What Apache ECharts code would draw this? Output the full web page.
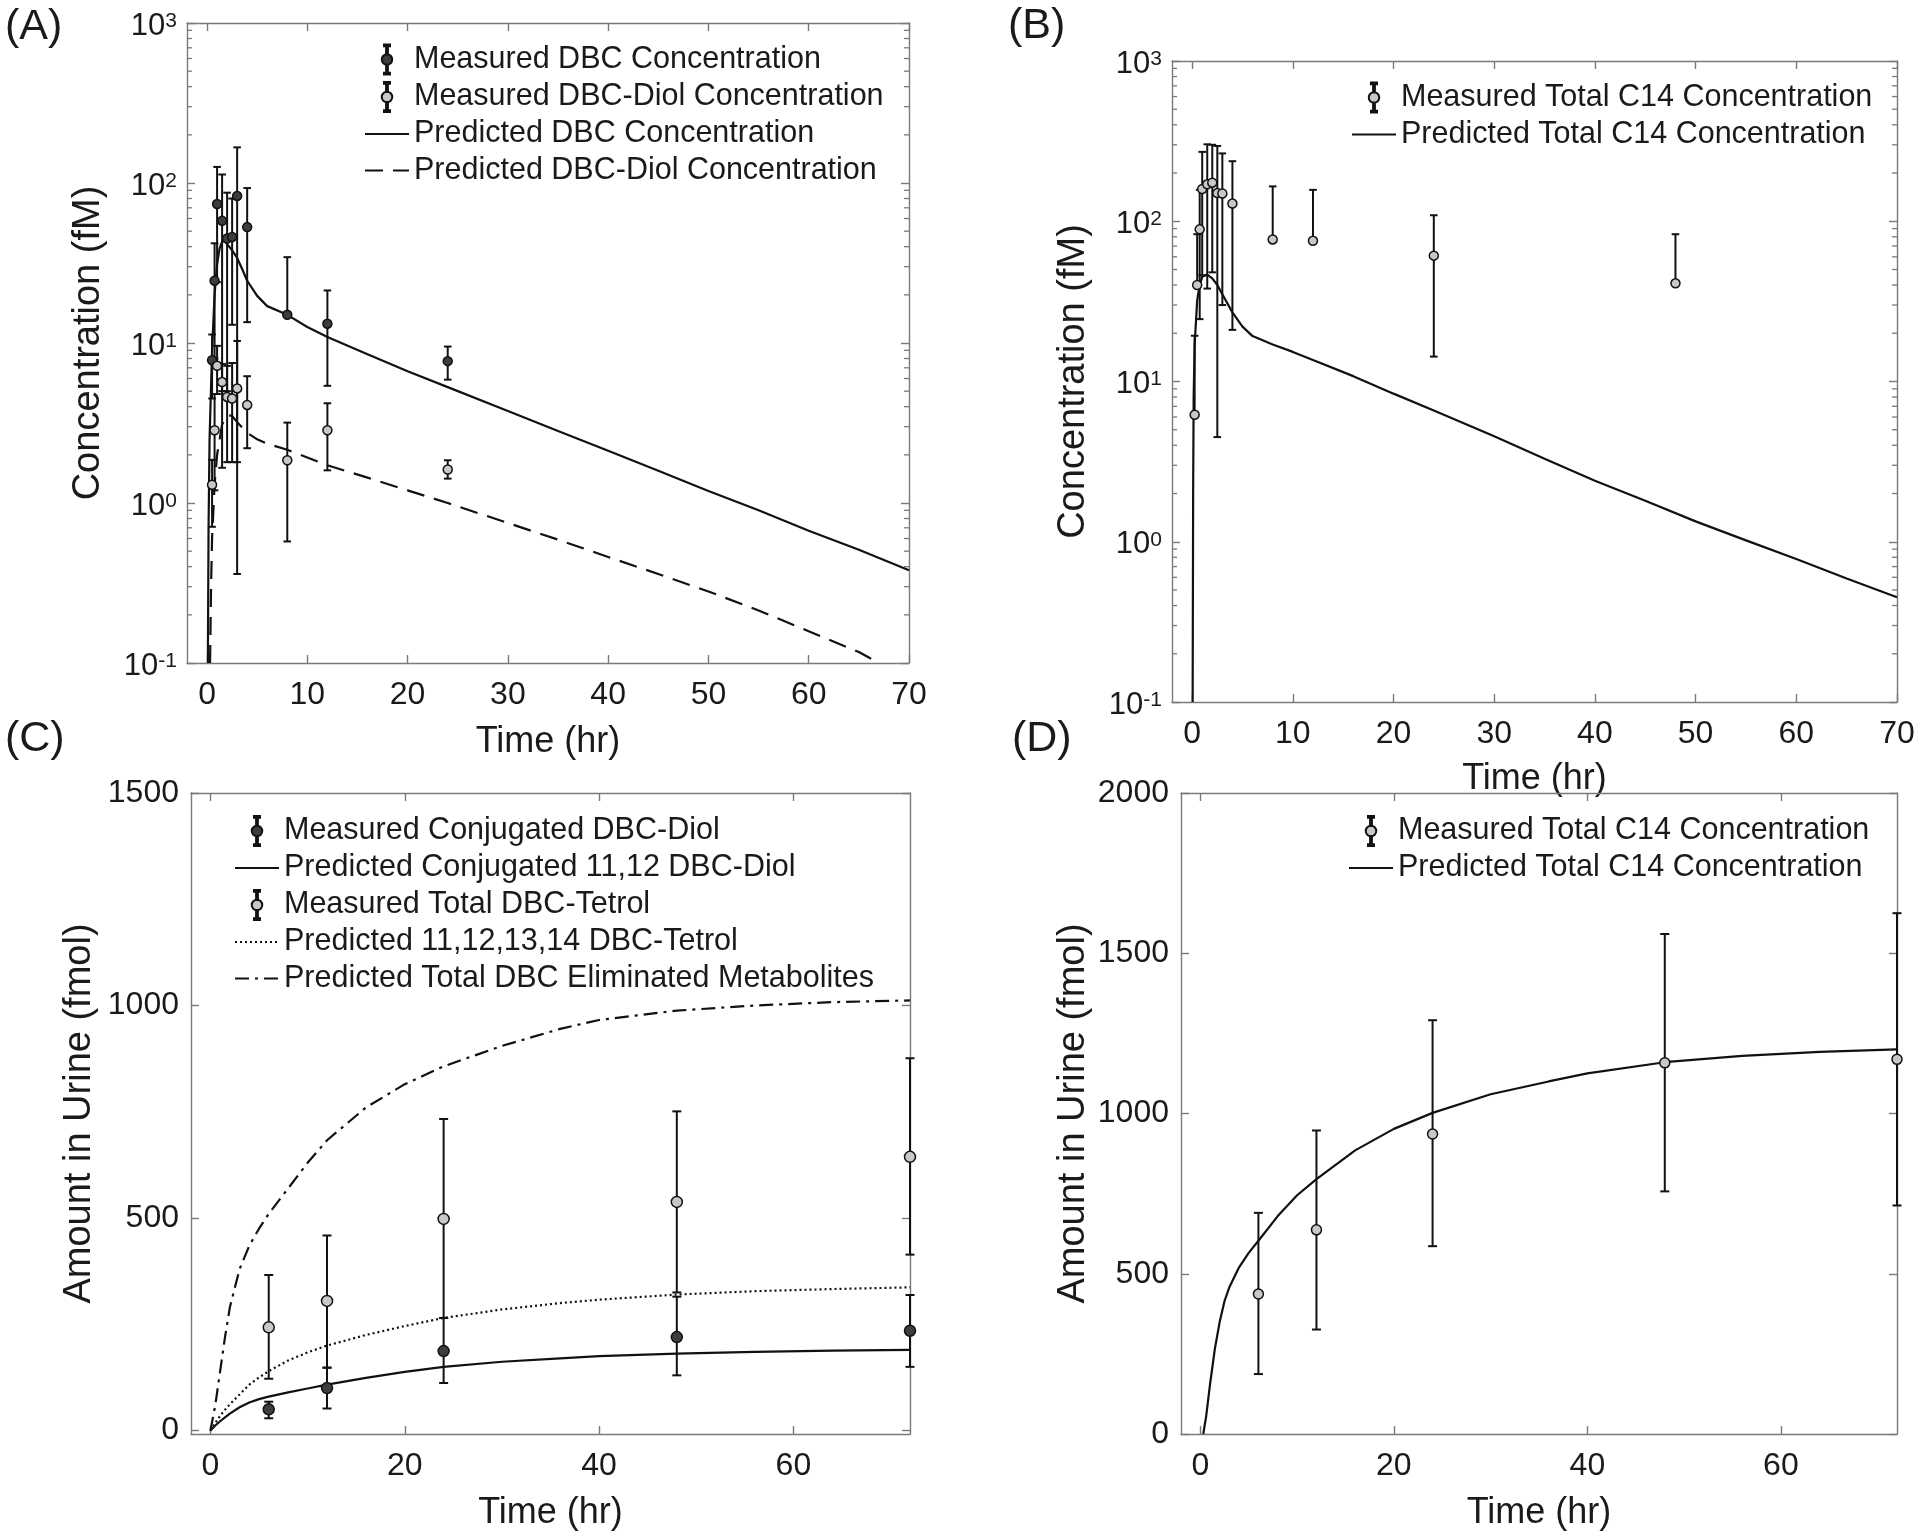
<!DOCTYPE html>
<html>
<head>
<meta charset="utf-8">
<script src="https://cdn.jsdelivr.net/npm/echarts@6/dist/echarts.min.js"></script>
<style>
html,body{margin:0;padding:0;background:#fff;}
#chart{width:1920px;height:1536px;}
</style>
</head>
<body>
<div id="chart"></div>
<script>
// ---------------- DATA ----------------
// Panel A: plasma DBC / DBC-Diol (log scale)
const tA = [0.5, 0.75, 1, 1.5, 2, 2.5, 3, 4, 8, 12, 24];
const dbcMean  = [7.8, 24.5, 74, 58, 45, 46, 83, 53, 15, 13.2, 7.7];
const dbcUpper = [11.3, 42, 126, 113, 87, 80, 167, 93, 34.4, 21.3, 9.5];
const dbcLower = [4.5, 8, 24, 5, 5, 13, 0.36, 13.5, null, 5.4, 5.9];
const diolMean  = [1.3, 2.85, 7.2, 5.7, 4.6, 4.5, 5.2, 4.1, 1.85, 2.85, 1.62];
const diolUpper = [1.86, 4.8, 9.6, 7.4, 7.2, 7.5, 10.3, 6.2, 3.18, 4.2, 1.85];
const diolLower = [0.71, 1.2, 4.8, 1.66, 1.8, 1.8, 1.8, 2.2, 0.575, 1.6, 1.42];

const tPredDBC = [0.08, 0.15, 0.25, 0.5, 0.75, 1, 1.25, 1.5, 1.75, 2, 2.5, 3, 3.5, 4, 5, 6, 8, 10, 12, 16, 20, 24, 30, 35, 40, 45, 50, 55, 60, 65, 70];
const predDBC  = [0.1, 0.7, 2.5, 9, 20, 31, 39, 43, 43.5, 41.5, 38, 34, 29, 24.5, 19.7, 17, 15, 12.6, 10.9, 8.5, 6.65, 5.3, 3.76, 2.82, 2.12, 1.59, 1.19, 0.9, 0.67, 0.51, 0.38];
const tPredDiol = [0.3, 0.4, 0.5, 0.75, 1, 1.5, 2, 2.5, 3, 4, 5, 6, 8, 12, 16, 20, 24, 30, 35, 40, 45, 50, 55, 60, 65, 67];
const predDiol  = [0.1, 0.3, 0.6, 1.3, 2.0, 3.1, 3.55, 3.5, 3.2, 2.75, 2.5, 2.35, 2.15, 1.72, 1.44, 1.2, 1.0, 0.75, 0.59, 0.46, 0.36, 0.28, 0.213, 0.158, 0.117, 0.1];

// Panel B: plasma total C14 (log scale)
const tB = [0.25, 0.5, 0.75, 1, 1.5, 2, 2.5, 3, 4, 8, 12, 24, 48];
const c14Mean  = [6.2, 40, 89, 159, 170, 174, 150, 149, 129, 77, 75.5, 61, 41];
const c14Upper = [19.3, 83, 157, 271, 302, 300, 295, 265, 237, 165, 157, 109, 83];
const c14Lower = [null, null, 24.5, 46, 38, 48, 4.5, 30, 21, null, null, 14.3, null];
const tPredC14 = [0.05, 0.1, 0.15, 0.25, 0.5, 0.75, 1, 1.5, 2, 2.5, 3, 4, 5, 6, 8, 10, 12, 16, 20, 24, 30, 35, 40, 45, 50, 55, 60, 65, 70];
const predC14  = [0.1, 2, 8, 17, 32, 40, 45, 46.5, 44, 40, 35, 27, 22, 19.2, 17, 15.3, 13.6, 10.8, 8.4, 6.6, 4.55, 3.3, 2.4, 1.8, 1.34, 1.02, 0.78, 0.59, 0.45];

// Panel C: urine metabolites (linear)
const tC = [6, 12, 24, 48, 72];
const conjMean  = [50, 100, 187, 220, 235];
const conjUpper = [68, 148, 265, 315, 319];
const conjLower = [29, 52, 112, 130, 150];
const tetrolMean  = [243, 305, 498, 538, 644];
const tetrolUpper = [366, 459, 733, 751, 876];
const tetrolLower = [122, 148, 265, 325, 414];
const tPredC = [0, 0.5, 1, 1.5, 2, 3, 4, 5, 6, 8, 10, 12, 16, 20, 24, 30, 36, 40, 48, 56, 64, 72];
const predConj   = [0, 12, 22, 31, 40, 55, 66, 74, 80, 90, 99, 108, 124, 138, 150, 162, 170, 175, 181, 185, 188, 190];
const predTetrol = [0, 18, 35, 49, 62, 85, 108, 125, 140, 165, 184, 200, 225, 246, 265, 285, 300, 308, 320, 328, 333, 337];
const predTotal  = [0, 60, 140, 220, 290, 380, 435, 475, 510, 570, 630, 683, 760, 815, 857, 905, 945, 966, 988, 1000, 1008, 1012];

// Panel D: urine total C14 (linear)
const tD = [6, 12, 24, 48, 72];
const c14UMean  = [437, 637, 936, 1158, 1169];
const c14UUpper = [690, 947, 1291, 1560, 1625];
const c14ULower = [187, 326, 586, 757, 713];
const tPredD = [0.3, 0.6, 1, 1.5, 2, 2.5, 3, 4, 5, 6, 8, 10, 12, 16, 20, 24, 30, 36, 40, 48, 56, 64, 72];
const predC14U = [0, 55, 155, 266, 350, 415, 458, 520, 565, 603, 680, 745, 795, 885, 952, 1002, 1060, 1100, 1125, 1160, 1180, 1192, 1200];

// Tick values
const xTicks70 = [0, 10, 20, 30, 40, 50, 60, 70];
const xTicks72 = [0, 20, 40, 60];
const yTicksC = [0, 500, 1000, 1500];
const yTicksD = [0, 500, 1000, 1500, 2000];
const minorLogTicks = [0.2,0.3,0.4,0.5,0.6,0.7,0.8,0.9, 2,3,4,5,6,7,8,9, 20,30,40,50,60,70,80,90, 200,300,400,500,600,700,800,900];

// ---------------- STYLE / HELPERS ----------------
const FONT = '"Liberation Sans", Arial, Helvetica, sans-serif';
const AX = '#7a7a7a';
const TXT = '#1a1a1a';
const LINE = '#111111';
const DARK = '#3d3d3d';
const LIGHT = '#c8c8c8';
const EB_ICON = 'path://M3,0H7V1.2H3Z M4.4,1.2H5.6V6.6H4.4Z M4.4,13.4H5.6V18.8H4.4Z M3,18.8H7V20H3Z M8.5,10A3.5,3.5,0,1,1,1.5,10A3.5,3.5,0,1,1,8.5,10Z';

function axLine() { return {show: true, onZero: false, lineStyle: {color: AX, width: 1.4}}; }
function tickStyle() { return {color: AX, width: 1.4}; }

function xAxes(gi, max, ticks, gap) {
  const mk = (pos) => ({
    type: 'value', gridIndex: gi, position: pos, min: -2, max: max,
    splitLine: {show: false},
    axisLine: axLine(),
    axisTick: {show: true, inside: true, length: 8, customValues: ticks, lineStyle: tickStyle()},
  });
  const b = mk('bottom');
  b.name = 'Time (hr)'; b.nameLocation = 'middle'; b.nameGap = gap;
  b.nameTextStyle = {fontSize: 36, color: TXT, fontFamily: FONT};
  b.axisLabel = {customValues: ticks, fontSize: 32, color: TXT, margin: 16, fontFamily: FONT, formatter: (v) => String(v)};
  const t = mk('top');
  t.axisLabel = {show: false};
  return [b, t];
}

function logYAxes(gi, gap) {
  const mk = (pos) => ({
    type: 'log', logBase: 10, gridIndex: gi, position: pos, min: 0.1, max: 1000,
    splitLine: {show: false},
    axisLine: axLine(),
    axisTick: {show: true, inside: true, length: 8, lineStyle: tickStyle()},
  });
  const l = mk('left');
  l.name = 'Concentration (fM)'; l.nameLocation = 'middle'; l.nameGap = gap;
  l.nameTextStyle = {fontSize: 38, color: TXT, fontFamily: FONT};
  l.axisLabel = {
    margin: 10, padding: [6, 0, 0, 0],
    formatter: (v) => '{b|10}{s|' + Math.round(Math.log10(v)) + '}',
    rich: {
      b: {fontSize: 31, lineHeight: 31, padding: [10, 0, 0, 0], verticalAlign: 'bottom', color: TXT, fontFamily: FONT},
      s: {fontSize: 21, lineHeight: 21, verticalAlign: 'top', color: TXT, fontFamily: FONT}
    }
  };
  const r = mk('right');
  r.axisLabel = {show: false};
  return [l, r];
}

function linYAxes(gi, min, max, ticks, gap) {
  const mk = (pos) => ({
    type: 'value', gridIndex: gi, position: pos, min: min, max: max,
    splitLine: {show: false},
    axisLine: axLine(),
    axisTick: {show: true, inside: true, length: 8, customValues: ticks, lineStyle: tickStyle()},
  });
  const l = mk('left');
  l.name = 'Amount in Urine (fmol)'; l.nameLocation = 'middle'; l.nameGap = gap;
  l.nameTextStyle = {fontSize: 38, color: TXT, fontFamily: FONT};
  l.axisLabel = {customValues: ticks, fontSize: 32, color: TXT, margin: 12, fontFamily: FONT, formatter: (v) => String(v)};
  const r = mk('right');
  r.axisLabel = {show: false};
  return [l, r];
}

function zip(ts, ys) { return ts.map((t, i) => [t, ys[i]]); }

function errorSeries(gi, ts, mean, up, lo, capHalf) {
  return {
    type: 'custom', xAxisIndex: 2 * gi, yAxisIndex: 2 * gi, silent: true, z: 2,
    encode: {x: 0, y: 1},
    data: ts.map((t, i) => [t, mean[i], up[i], lo[i] == null ? NaN : lo[i]]),
    renderItem: function (params, api) {
      const x = api.value(0), m = api.value(1), hi = api.value(2), lw = api.value(3);
      const hasLo = !(lw == null || isNaN(lw));
      const pm = api.coord([x, m]);
      const ph = api.coord([x, hi]);
      const pl = hasLo ? api.coord([x, lw]) : pm;
      const st = {stroke: LINE, lineWidth: 2};
      const ch = [
        {type: 'line', shape: {x1: ph[0], y1: ph[1], x2: pl[0], y2: pl[1]}, style: st},
        {type: 'line', shape: {x1: ph[0] - capHalf, y1: ph[1], x2: ph[0] + capHalf, y2: ph[1]}, style: st}
      ];
      if (hasLo) ch.push({type: 'line', shape: {x1: pl[0] - capHalf, y1: pl[1], x2: pl[0] + capHalf, y2: pl[1]}, style: st});
      return {type: 'group', children: ch};
    }
  };
}

function scatterSeries(gi, name, ts, mean, fill, size) {
  return {
    type: 'scatter', name: name, xAxisIndex: 2 * gi, yAxisIndex: 2 * gi, z: 5,
    symbol: 'circle', symbolSize: size,
    itemStyle: {color: fill, borderColor: LINE, borderWidth: 1.5, opacity: 1},
    data: zip(ts, mean)
  };
}

function lineSeries(gi, name, ts, ys, type) {
  return {
    type: 'line', name: name, xAxisIndex: 2 * gi, yAxisIndex: 2 * gi, z: 3,
    symbol: 'none', showSymbol: false, smooth: false,
    lineStyle: {color: LINE, width: 2.2, type: type},
    itemStyle: {color: LINE},
    data: zip(ts, ys)
  };
}

function minorTickSeries(gi) {
  return {
    type: 'custom', xAxisIndex: 2 * gi, yAxisIndex: 2 * gi, silent: true, z: 1,
    encode: {x: 0, y: 1},
    data: minorLogTicks.map(v => [0, v]),
    renderItem: function (params, api) {
      const cs = params.coordSys;
      const y = api.coord([0, api.value(1)])[1];
      const st = {stroke: AX, lineWidth: 1.3};
      return {type: 'group', children: [
        {type: 'line', shape: {x1: cs.x, y1: y, x2: cs.x + 5, y2: y}, style: st},
        {type: 'line', shape: {x1: cs.x + cs.width - 5, y1: y, x2: cs.x + cs.width, y2: y}, style: st}
      ]};
    }
  };
}

const HIDDEN_SYMBOL = {color: 'rgba(0,0,0,0)', borderColor: 'rgba(0,0,0,0)', borderWidth: 0, opacity: 0};

function legend(names, left, top) {
  return {
    orient: 'vertical', left: left, top: top, padding: 0,
    itemWidth: 44, itemHeight: 30, itemGap: 5.5, selectedMode: false,
    textStyle: {fontSize: 30.5, color: TXT, fontFamily: FONT},
    data: names.map(n => n.indexOf('Measured') === 0
      ? {name: n, icon: EB_ICON}
      : {name: n, itemStyle: HIDDEN_SYMBOL})
  };
}

function panelLabel(text, x, y) {
  return {type: 'text', x: x, y: y, silent: true,
    style: {text: text, fontSize: 43, fontFamily: FONT, fill: TXT, align: 'left', verticalAlign: 'middle'}};
}

// ---------------- OPTION ----------------
const option = {
  animation: false,
  backgroundColor: '#ffffff',
  textStyle: {fontFamily: FONT},
  grid: [
    {left: 187, top: 23, width: 722, height: 640},
    {left: 1172, top: 61, width: 725, height: 641},
    {left: 191, top: 793, width: 719, height: 641},
    {left: 1181, top: 793, width: 716, height: 641}
  ],
  xAxis: [].concat(
    xAxes(0, 70, xTicks70, 61),
    xAxes(1, 70, xTicks70, 59),
    xAxes(2, 72, xTicks72, 61),
    xAxes(3, 72, xTicks72, 61)
  ),
  yAxis: [].concat(
    logYAxes(0, 79.5),
    logYAxes(1, 79),
    linYAxes(2, -8, 1500, yTicksC, 92),
    linYAxes(3, 0, 2000, yTicksD, 88)
  ),
  legend: [
    legend(['Measured DBC Concentration', 'Measured DBC-Diol Concentration', 'Predicted DBC Concentration', 'Predicted DBC-Diol Concentration'], 364, 43.5),
    legend(['Measured Total C14 Concentration', 'Predicted Total C14 Concentration'], 1351, 81.5),
    legend(['Measured Conjugated DBC-Diol', 'Predicted Conjugated 11,12 DBC-Diol', 'Measured Total DBC-Tetrol', 'Predicted 11,12,13,14 DBC-Tetrol', 'Predicted Total DBC Eliminated Metabolites'], 234, 815),
    legend(['Measured Total C14 Concentration', 'Predicted Total C14 Concentration'], 1348, 815)
  ],
  graphic: [
    panelLabel('(A)', 5, 27),
    panelLabel('(B)', 1008, 26),
    panelLabel('(C)', 5, 739),
    panelLabel('(D)', 1012, 739)
  ],
  series: [
    // A
    minorTickSeries(0),
    errorSeries(0, tA, dbcMean, dbcUpper, dbcLower, 3.8),
    errorSeries(0, tA, diolMean, diolUpper, diolLower, 3.8),
    lineSeries(0, 'Predicted DBC Concentration', tPredDBC, predDBC, 'solid'),
    lineSeries(0, 'Predicted DBC-Diol Concentration', tPredDiol, predDiol, [18, 10]),
    scatterSeries(0, 'Measured DBC Concentration', tA, dbcMean, DARK, 9),
    scatterSeries(0, 'Measured DBC-Diol Concentration', tA, diolMean, LIGHT, 9),
    // B
    minorTickSeries(1),
    errorSeries(1, tB, c14Mean, c14Upper, c14Lower, 3.8),
    lineSeries(1, 'Predicted Total C14 Concentration', tPredC14, predC14, 'solid'),
    scatterSeries(1, 'Measured Total C14 Concentration', tB, c14Mean, LIGHT, 9),
    // C
    errorSeries(2, tC, conjMean, conjUpper, conjLower, 4.5),
    errorSeries(2, tC, tetrolMean, tetrolUpper, tetrolLower, 4.5),
    lineSeries(2, 'Predicted Conjugated 11,12 DBC-Diol', tPredC, predConj, 'solid'),
    lineSeries(2, 'Predicted 11,12,13,14 DBC-Tetrol', tPredC, predTetrol, [2, 3]),
    lineSeries(2, 'Predicted Total DBC Eliminated Metabolites', tPredC, predTotal, [14, 6, 3, 6]),
    scatterSeries(2, 'Measured Conjugated DBC-Diol', tC, conjMean, DARK, 11),
    scatterSeries(2, 'Measured Total DBC-Tetrol', tC, tetrolMean, LIGHT, 11),
    // D
    errorSeries(3, tD, c14UMean, c14UUpper, c14ULower, 4.5),
    lineSeries(3, 'Predicted Total C14 Concentration', tPredD, predC14U, 'solid'),
    scatterSeries(3, 'Measured Total C14 Concentration', tD, c14UMean, LIGHT, 10)
  ]
};

const chart = echarts.init(document.getElementById('chart'), null, {renderer: 'canvas', width: 1920, height: 1536});
chart.setOption(option);
</script>
</body>
</html>
